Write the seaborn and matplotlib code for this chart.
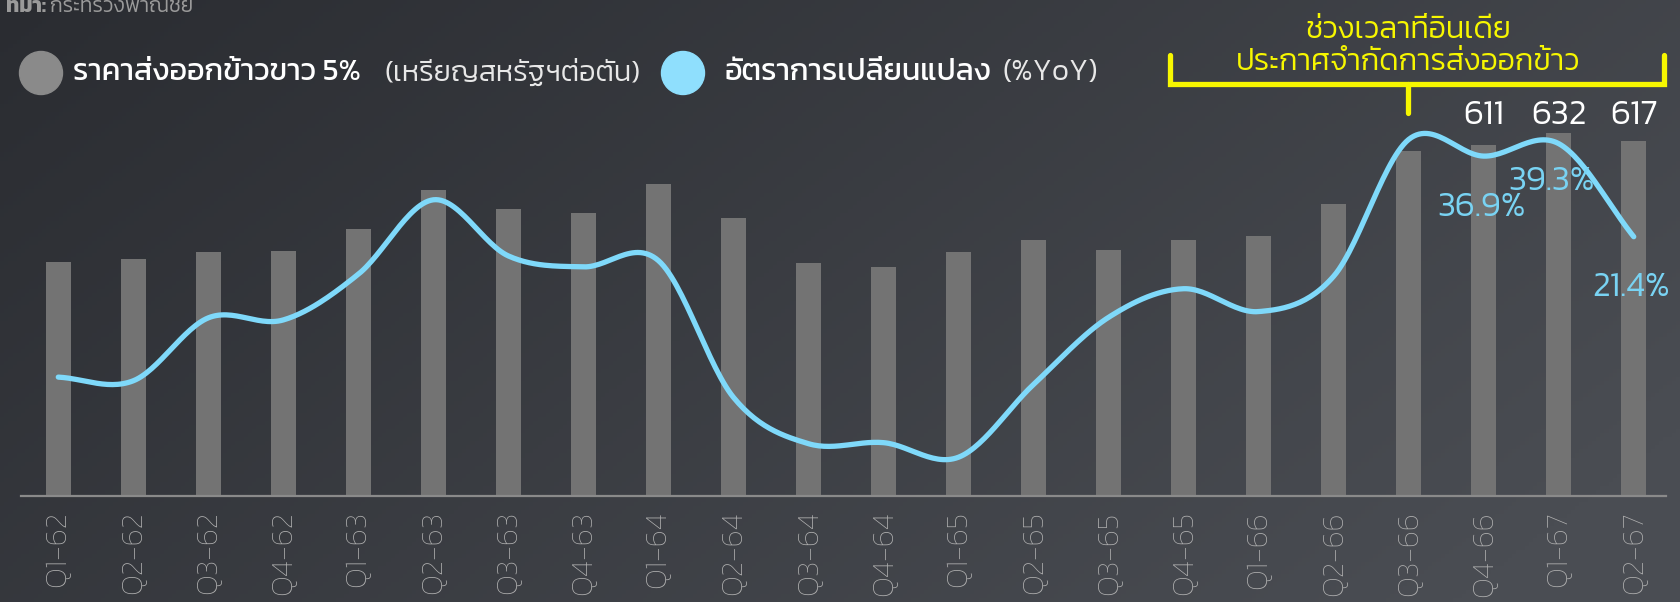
import numpy as np
import pandas as pd
import matplotlib
matplotlib.use("Agg")
import matplotlib.pyplot as plt
import seaborn as sns
from matplotlib.patches import Ellipse
from matplotlib.lines import Line2D

# ---------------- data ----------------
quarters = ["Q1-62", "Q2-62", "Q3-62", "Q4-62",
            "Q1-63", "Q2-63", "Q3-63", "Q4-63",
            "Q1-64", "Q2-64", "Q3-64", "Q4-64",
            "Q1-65", "Q2-65", "Q3-65", "Q4-65",
            "Q1-66", "Q2-66", "Q3-66", "Q4-66",
            "Q1-67", "Q2-67"]
price = [407, 413, 424, 426, 464, 532, 499, 492, 542, 484, 405, 399,
         424, 446, 428, 445, 453, 508, 600, 611, 632, 617]
yoy = [-5.6, -6.3, 5.8, 5.4, 14.2, 28.5, 17.7, 15.6, 16.8, -9.5, -18.4, -18.2,
       -21.0, -7.0, 5.9, 11.4, 7.0, 13.8, 40.1, 36.9, 39.3, 21.4]
price_labels = {"Q4-66": "611", "Q1-67": "632", "Q2-67": "617"}
yoy_labels = {"Q4-66": "36.9%", "Q1-67": "39.3%", "Q2-67": "21.4%"}

legend_bar = "ราคาส่งออกข้าวขาว 5%"
legend_bar_unit = "(เหรียญสหรัฐฯต่อตัน)"
legend_line = "อัตราการเปลี่ยนแปลง"
legend_line_unit = "(%YoY)"
note_line1 = "ช่วงเวลาที่อินเดีย"
note_line2 = "ประกาศจำกัดการส่งออกข้าว"
source_bold = "ที่มา:"
source_text = "กระทรวงพาณิชย์"

# ---------------- style ----------------
sns.set_theme(style="white")
fams = ["Kanit", "IBM Plex Sans Thai", "DejaVu Sans"]
plt.rcParams["font.family"] = fams

W, H = 1680, 602
fig = plt.figure(figsize=(W / 100, H / 100), dpi=100)

# background gradient
gx = np.linspace(0, 1, 400)
gy = np.linspace(0, 1, 150)
GX, GY = np.meshgrid(gx, gy)
t = np.clip(0.75 * GX + 0.35 * GY, 0, 1)
c0 = np.array([0x2a, 0x2c, 0x31]) / 255
c1 = np.array([0x4a, 0x4d, 0x53]) / 255
img = c0[None, None, :] * (1 - t[..., None]) + c1[None, None, :] * t[..., None]
bg = fig.add_axes([0, 0, 1, 1])
bg.imshow(img, aspect="auto", extent=[0, 1, 0, 1], origin="upper")
bg.set_axis_off()

def fx(x):
    return x / W

def fy(y):
    return 1 - y / H

ax_left, ax_right = 21, 1666
ax_bottom, ax_top = 496, 100
ax = fig.add_axes([fx(ax_left), fy(ax_bottom), (ax_right - ax_left) / W, (ax_bottom - ax_top) / H])
ax.patch.set_alpha(0)

df = pd.DataFrame({"quarter": quarters, "price": price, "yoy": yoy})
sns.barplot(data=df, x="quarter", y="price", ax=ax, color="#737373",
            saturation=1, width=0.33, linewidth=0)
ax.set_ylim(0, 688.7)
ax.set_xlim(-0.497, 21.43)
ax.set_xlabel("")
ax.set_ylabel("")
ax.set_yticks([])
for s in ["top", "left", "right"]:
    ax.spines[s].set_visible(False)
ax.spines["bottom"].set_color("#8a8a8a")
ax.spines["bottom"].set_linewidth(1.6)
ax.tick_params(axis="x", length=0, pad=11)
ax.set_xticks(range(len(quarters)))
ax.set_xticklabels(quarters, rotation=90, color="#b0b0b0", fontsize=22,
                   family=fams, fontweight=200)

# smooth line (cubic Hermite / Catmull-Rom through the data points)
ax2 = ax.twinx()
ax2.set_ylim(-28.46, 47.69)
ax2.set_axis_off()
xs = np.arange(len(yoy), dtype=float)
ys = np.array(yoy, dtype=float)
px = np.concatenate([[xs[0]], xs, [xs[-1]]])
py = np.concatenate([[ys[0]], ys, [ys[-1]]])
cx, cy = [], []
tt_ = np.linspace(0, 1, 30)
for i in range(1, len(px) - 2):
    p0, p1, p2, p3 = py[i - 1], py[i], py[i + 1], py[i + 2]
    q1, q2 = px[i], px[i + 1]
    m1y = (p2 - p0) / 2 if i > 1 else (p2 - p1)
    m2y = (p3 - p1) / 2 if i < len(px) - 3 else (p2 - p1)
    h00 = 2 * tt_**3 - 3 * tt_**2 + 1
    h10 = tt_**3 - 2 * tt_**2 + tt_
    h01 = -2 * tt_**3 + 3 * tt_**2
    h11 = tt_**3 - tt_**2
    cy.extend(h00 * p1 + h10 * m1y + h01 * p2 + h11 * m2y)
    cx.extend(q1 + (q2 - q1) * tt_)
sns.lineplot(x=cx, y=cy, ax=ax2, color="#7fd9fa", linewidth=3.8, sort=False,
             estimator=None)
for l in ax2.lines:
    l.set_solid_capstyle("round")

for q, lab in price_labels.items():
    i = quarters.index(q)
    ax.text(i, 662, lab, ha="center", va="center", color="white", fontsize=25,
            family=fams, fontweight=300)
yoy_pos = {"Q4-66": (-0.03, 27.1), "Q1-67": (-0.1, 32.1), "Q2-67": (-0.03, 11.7)}
for q, lab in yoy_labels.items():
    i = quarters.index(q)
    dx, yv = yoy_pos[q]
    ax2.text(i + dx, yv, lab, ha="center", va="center", color="#79d3f3",
             fontsize=25, family=fams, fontweight=300)

# legend
def circle(xc, yc, d, color):
    e = Ellipse((fx(xc), fy(yc)), d / W, d / H, transform=fig.transFigure,
                color=color, zorder=5)
    fig.add_artist(e)

circle(41, 73, 43, "#8a8a8a")
fig.text(fx(73), fy(73), legend_bar, ha="left", va="center", color="white",
         fontsize=22, family=fams)
fig.text(fx(384), fy(73), legend_bar_unit, ha="left", va="center", color="#e8e8e8",
         fontsize=20.8, family=fams, fontweight=300)
circle(683, 73, 43, "#8fdffd")
fig.text(fx(724), fy(73), legend_line, ha="left", va="center", color="white",
         fontsize=22, family=fams)
fig.text(fx(1003), fy(73), legend_line_unit, ha="left", va="center", color="#e8e8e8",
         fontsize=21.5, family=fams, fontweight=300)

# source (clipped at top edge as in the reference)
fig.text(fx(6), fy(12), source_bold, ha="left", va="baseline", color="#9a9a9a",
         fontsize=15, fontweight="bold", family=fams)
fig.text(fx(50), fy(12), source_text, ha="left", va="baseline", color="#9a9a9a",
         fontsize=15, family=fams, fontweight=300)

# yellow bracket annotation
yel = "#f7f700"
lw = 3.8
fig.add_artist(Line2D([fx(1170), fx(1170), fx(1664), fx(1664)],
                      [fy(55), fy(84), fy(84), fy(55)], color=yel, lw=lw,
                      transform=fig.transFigure, solid_joinstyle="miter"))
fig.add_artist(Line2D([fx(1408), fx(1408)], [fy(84), fy(113)], color=yel, lw=lw,
                      transform=fig.transFigure))
fig.text(fx(1408), fy(30), note_line1, ha="center", va="center", color=yel,
         fontsize=22, family=fams, fontweight=300)
fig.text(fx(1408), fy(62), note_line2, ha="center", va="center", color=yel,
         fontsize=22, family=fams, fontweight=300)

fig.savefig("out.png", dpi=100)
